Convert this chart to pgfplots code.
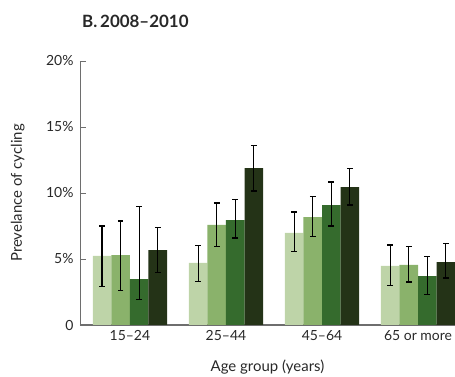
\documentclass[border=0pt]{standalone}
\usepackage{pgfplots}
\pgfplotsset{compat=1.18}
\usepackage{pgfplotstable}
\usepackage{fontspec}
\setmainfont{Lato}
\definecolor{cA}{RGB}{190,212,168}
\definecolor{cB}{RGB}{138,178,107}
\definecolor{cC}{RGB}{53,107,45}
\definecolor{cD}{RGB}{36,51,23}
\definecolor{txt}{RGB}{40,40,40}
\definecolor{axg}{RGB}{110,110,110}
\pgfplotstableread{
x y hi lo
0 5.23 7.50 2.93
1 4.70 6.01 3.31
2 6.97 8.56 5.56
3 4.47 6.06 2.98
}\sA
\pgfplotstableread{
x y hi lo
0 5.30 7.88 2.63
1 7.58 9.24 5.96
2 8.18 9.72 6.69
3 4.55 5.98 3.26
}\sB
\pgfplotstableread{
x y hi lo
0 3.48 8.99 1.92
1 7.95 9.50 6.59
2 9.09 10.83 7.50
3 3.71 5.18 2.32
}\sC
\pgfplotstableread{
x y hi lo
0 5.68 7.37 3.97
1 11.89 13.60 10.15
2 10.45 11.89 9.09
3 4.77 6.16 3.56
}\sD
\begin{document}
\begin{tikzpicture}
\useasboundingbox (-80bp,-52bp) rectangle (375bp,325bp);
\begin{axis}[
  at={(0,0)}, anchor=south west,
  scale only axis, width=375bp, height=264bp,
  xmin=-0.52, xmax=3.385, ymin=0, ymax=20,
  ybar=0pt, bar width=0.193,
  axis x line=bottom, axis y line=left,
  x axis line style={-, draw=axg, line width=1.3pt},
  y axis line style={-, draw=axg, line width=0.8pt},
  xtick={0,1,2,3}, xticklabels={15--24,25--44,45--64,65 or more},
  major x tick style={draw=none},
  ytick={0,5,10,15,20}, yticklabels={0,5\%,10\%,15\%,20\%},
  tick align=inside, major tick length=6bp,
  major y tick style={draw=axg, line width=0.8pt},
  ticklabel style={font=\fontsize{14}{16}\selectfont, text=txt},
  /pgf/number format/assume math mode=true,
  xticklabel style={yshift=-2bp},
  yticklabel style={xshift=-3bp},
  xlabel={Age group (years)}, ylabel={Prevelance of cycling},
  label style={font=\fontsize{15}{17}\selectfont, text=txt},
  xlabel style={at={(axis description cs:0.5,0)}, anchor=base, yshift=-46bp},
  ylabel style={at={(axis description cs:0,0.5)}, anchor=base, yshift=58bp},
  error bars/y dir=both, error bars/y explicit,
  error bars/error bar style={black, line width=1.3pt},
  error bars/error mark options={rotate=90, mark size=2.8bp, black, line width=1.1pt},
  every axis plot/.append style={draw=none},
]
\addplot[fill=cA] table[x=x,y=y, y error plus expr=\thisrow{hi}-\thisrow{y}, y error minus expr=\thisrow{y}-\thisrow{lo}] {\sA};
\addplot[fill=cB] table[x=x,y=y, y error plus expr=\thisrow{hi}-\thisrow{y}, y error minus expr=\thisrow{y}-\thisrow{lo}] {\sB};
\addplot[fill=cC] table[x=x,y=y, y error plus expr=\thisrow{hi}-\thisrow{y}, y error minus expr=\thisrow{y}-\thisrow{lo}] {\sC};
\addplot[fill=cD] table[x=x,y=y, y error plus expr=\thisrow{hi}-\thisrow{y}, y error minus expr=\thisrow{y}-\thisrow{lo}] {\sD};
\end{axis}
\node[anchor=base west, text=txt, font=\fontsize{17}{20}\selectfont\bfseries, inner sep=0pt] at (2bp,297bp) {B.\,2008--2010};
\end{tikzpicture}
\end{document}
